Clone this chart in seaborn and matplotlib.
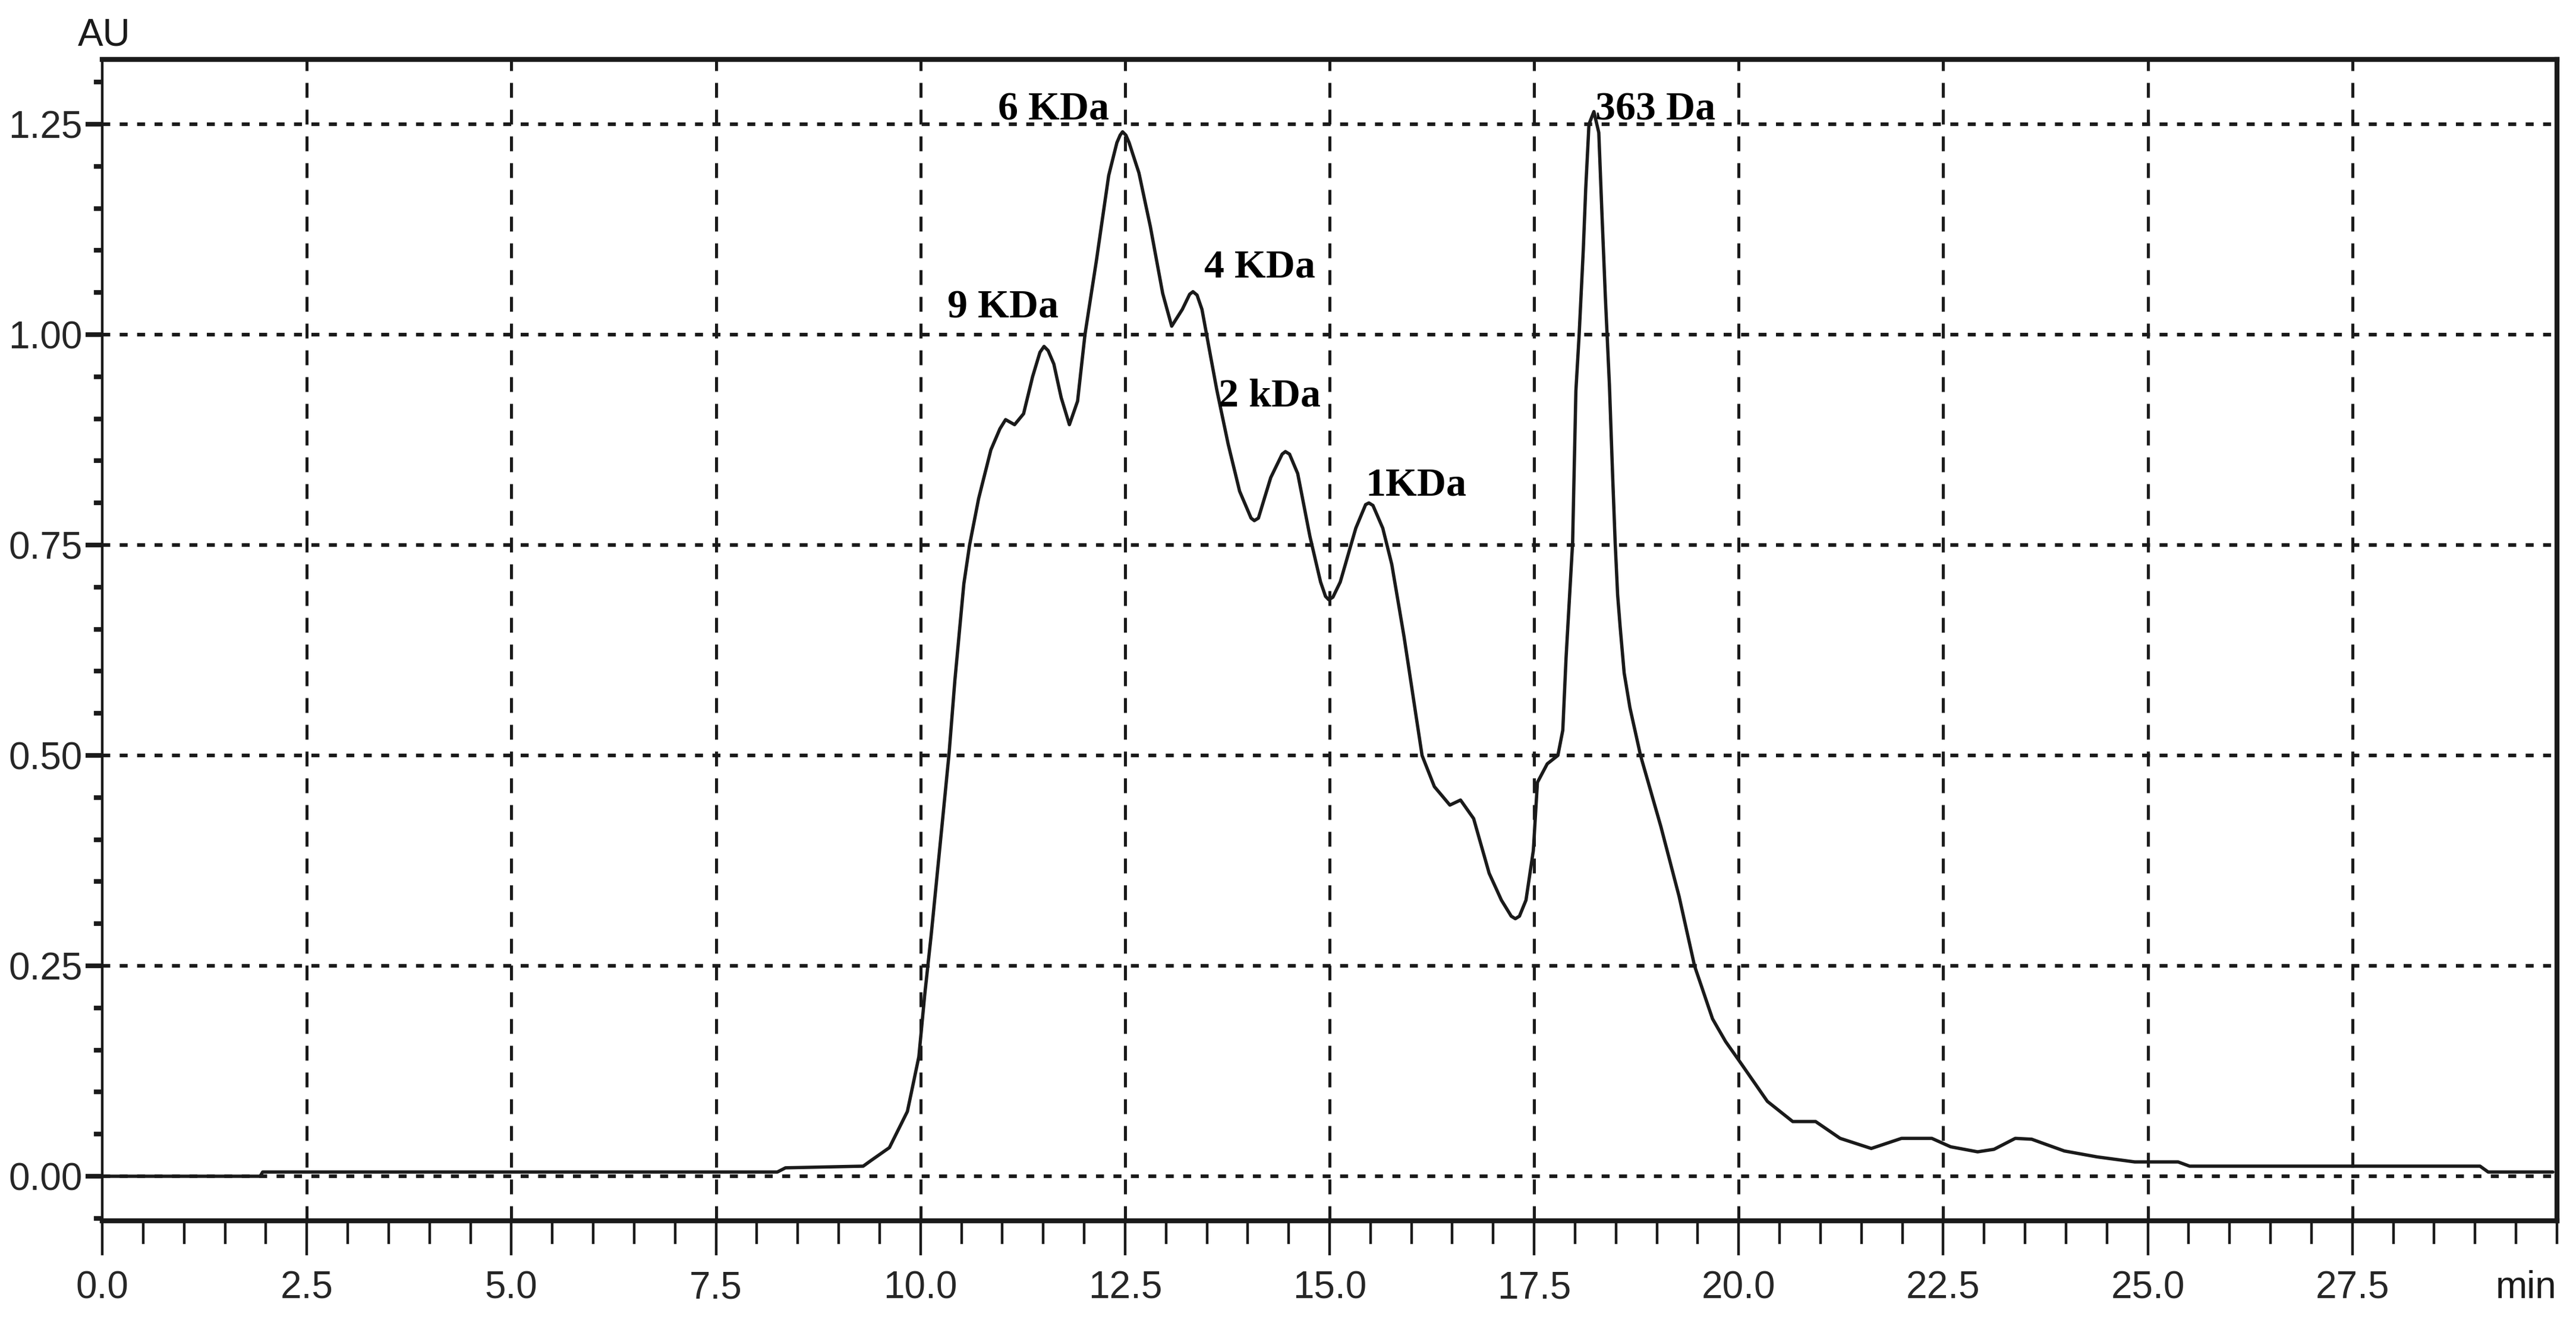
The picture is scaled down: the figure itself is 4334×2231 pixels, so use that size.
import numpy as np
import pandas as pd
import seaborn as sns
import matplotlib.pyplot as plt
from matplotlib.ticker import MultipleLocator

# --- data (retention time in min, absorbance in AU) ---
time_min = [0.0, 1.93, 1.96, 5.0, 8.25, 8.35, 9.3, 9.40, 9.62, 9.84,
            9.98, 10.05, 10.13, 10.24, 10.35, 10.42, 10.53, 10.60, 10.71, 10.86,
            10.97, 11.04, 11.15, 11.26, 11.37, 11.46, 11.51, 11.56, 11.63, 11.72,
            11.82, 11.92, 12.01, 12.15, 12.30, 12.40, 12.44, 12.47, 12.51, 12.55,
            12.67, 12.81, 12.96, 13.07, 13.20, 13.29, 13.33, 13.38, 13.44, 13.62,
            13.76, 13.90, 14.04, 14.08, 14.13, 14.28, 14.42, 14.46, 14.51, 14.61,
            14.76, 14.89, 14.95, 14.99, 15.04, 15.13, 15.32, 15.44, 15.48, 15.53,
            15.65, 15.76, 15.91, 16.13, 16.28, 16.47, 16.60, 16.76, 16.95, 17.10,
            17.22, 17.27, 17.32, 17.40, 17.49, 17.54, 17.66, 17.79, 17.85, 17.89,
            17.93, 17.97, 18.01, 18.05, 18.10, 18.13, 18.17, 18.23, 18.29, 18.33,
            18.37, 18.42, 18.46, 18.49, 18.52, 18.55, 18.60, 18.67, 18.80, 19.05,
            19.27, 19.46, 19.68, 19.84, 20.00, 20.35, 20.66, 20.94, 21.24, 21.62,
            21.99, 22.36, 22.59, 22.92, 23.12, 23.38, 23.58, 23.98, 24.38, 24.84,
            25.37, 25.51, 29.06, 29.16, 29.95]
absorbance = [0.000, 0.000, 0.005, 0.005, 0.005, 0.010, 0.012, 0.019, 0.034, 0.077,
              0.142, 0.214, 0.286, 0.394, 0.503, 0.589, 0.704, 0.750, 0.805, 0.863,
              0.888, 0.899, 0.893, 0.906, 0.950, 0.979, 0.986, 0.981, 0.965, 0.925,
              0.893, 0.921, 1.000, 1.088, 1.189, 1.228, 1.237, 1.241, 1.237, 1.228,
              1.192, 1.128, 1.049, 1.010, 1.030, 1.048, 1.051, 1.047, 1.030, 0.935,
              0.870, 0.814, 0.782, 0.779, 0.782, 0.830, 0.858, 0.861, 0.858, 0.835,
              0.760, 0.706, 0.689, 0.685, 0.688, 0.706, 0.770, 0.798, 0.800, 0.797,
              0.770, 0.727, 0.641, 0.500, 0.463, 0.441, 0.447, 0.425, 0.360, 0.328,
              0.309, 0.306, 0.309, 0.328, 0.387, 0.468, 0.490, 0.500, 0.530, 0.616,
              0.685, 0.753, 0.933, 1.000, 1.100, 1.173, 1.250, 1.265, 1.240, 1.140,
              1.045, 0.940, 0.830, 0.753, 0.691, 0.654, 0.598, 0.557, 0.500, 0.415,
              0.333, 0.250, 0.187, 0.160, 0.138, 0.089, 0.065, 0.065, 0.045, 0.033,
              0.045, 0.045, 0.035, 0.029, 0.032, 0.045, 0.044, 0.030, 0.023, 0.017,
              0.017, 0.012, 0.012, 0.005, 0.005]

peak_labels = ['6 KDa', '9 KDa', '4 KDa', '2 kDa', '1KDa', '363 Da']
label_time = [10.95, 10.33, 13.47, 13.64, 15.44, 18.25]
label_au = [1.255, 1.020, 1.068, 0.915, 0.809, 1.255]

xtick_values = [0.0, 2.5, 5.0, 7.5, 10.0, 12.5, 15.0, 17.5, 20.0, 22.5, 25.0, 27.5]
ytick_values = [0.00, 0.25, 0.50, 0.75, 1.00, 1.25]

df = pd.DataFrame({'time': time_min, 'au': absorbance})

sns.set_style('white')
plt.rcParams['font.family'] = ['Liberation Sans Narrow', 'Liberation Sans', 'DejaVu Sans']

fig = plt.figure(figsize=(21.67, 11.155), dpi=200)
ax = fig.add_axes([0.0397, 0.0793, 0.9529, 0.8759])

ink = '#1a1a1a'
sns.lineplot(data=df, x='time', y='au', ax=ax, color=ink, linewidth=2.0,
             estimator=None, sort=False)

ax.set_xlim(0, 30)
ax.set_ylim(-0.053, 1.327)
ax.set_xlabel('')
ax.set_ylabel('')

ax.set_xticks(xtick_values)
ax.set_xticklabels([f'{v:.1f}' for v in xtick_values])
ax.set_yticks(ytick_values)
ax.set_yticklabels([f'{v:.2f}' for v in ytick_values])
ax.xaxis.set_minor_locator(MultipleLocator(0.5))
ax.yaxis.set_minor_locator(MultipleLocator(0.05))

ax.tick_params(axis='x', which='major', direction='out', length=21, width=1.6,
               color=ink, labelsize=23, pad=9, bottom=True)
ax.tick_params(axis='x', which='minor', direction='out', length=14, width=1.6,
               color=ink, bottom=True)
ax.tick_params(axis='y', which='major', direction='out', length=10, width=2.8,
               color=ink, labelsize=23, pad=2, left=True)
ax.tick_params(axis='y', which='minor', direction='out', length=5, width=2.8,
               color=ink, left=True)

# grid: dashed verticals, dotted horizontals
ax.grid(False)
for v in xtick_values[1:]:
    ax.axvline(v, color=ink, linewidth=1.8, linestyle=(0, (5, 4)), zorder=0.5)
for v in ytick_values:
    ax.axhline(v, color=ink, linewidth=2.2, linestyle=(0, (2.2, 2.6)), zorder=0.5)

for side in ['top', 'bottom', 'right']:
    ax.spines[side].set_linewidth(3.0)
    ax.spines[side].set_color(ink)
    ax.spines[side].set_visible(True)
ax.spines['left'].set_linewidth(1.6)
ax.spines['left'].set_color(ink)
ax.spines['left'].set_visible(True)

for txt, tx, ty in zip(peak_labels, label_time, label_au):
    ax.text(tx, ty, txt, ha='left', va='baseline', fontsize=24.5,
            fontweight='bold', family=['Liberation Serif', 'DejaVu Serif'],
            color='black')

fig.text(0.0404, 0.9597, 'AU', ha='center', va='bottom', fontsize=23, color=ink)
fig.text(0.9926, 0.0285, 'min', ha='right', va='center', fontsize=23, color=ink)

fig.savefig('out.png', dpi=200, facecolor='white')
